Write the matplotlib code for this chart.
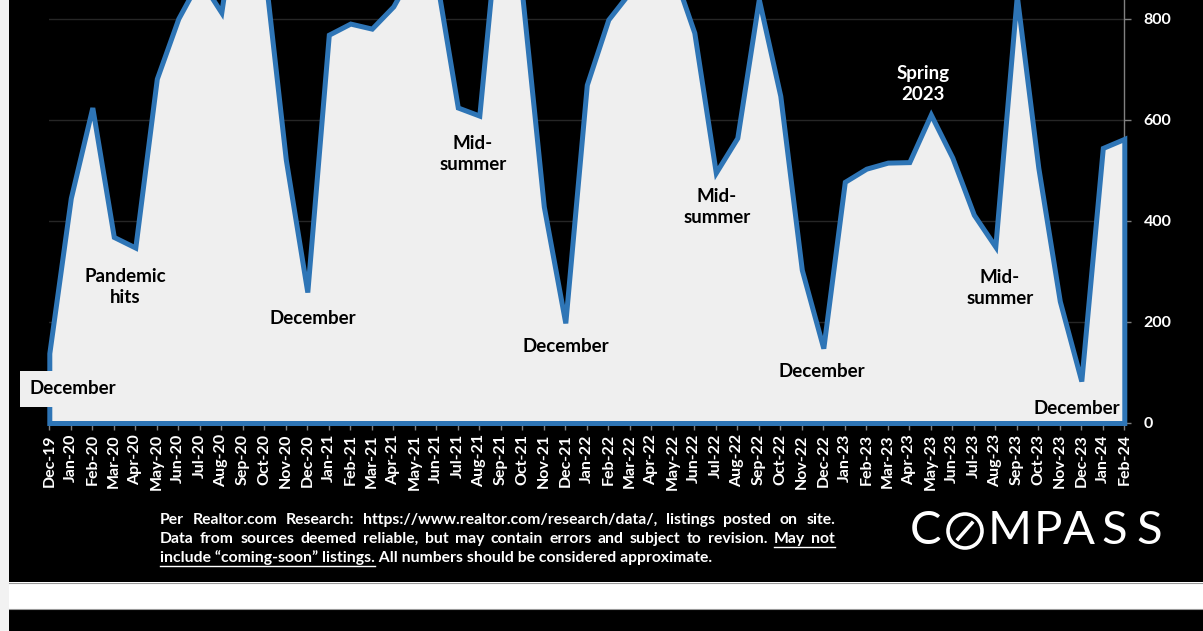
import matplotlib
matplotlib.use("Agg")
import matplotlib.pyplot as plt
import numpy as np
import pandas as pd
from matplotlib.patches import Rectangle, Circle
from matplotlib.lines import Line2D

# ---- data: active listings per month ----
months = pd.date_range("2019-12-01", periods=51, freq="MS").strftime("%b-%y").tolist()
listings = [138, 445, 624, 368, 347, 681, 800, 878, 812, 1100, 900, 521, 259,
            768, 790, 780, 824, 900, 880, 624, 608, 1050, 845, 428, 198,
            669, 798, 852, 900, 895, 772, 495, 564, 838, 647, 303, 148,
            477, 503, 515, 516, 610, 525, 412, 349, 845, 505, 241, 83,
            544, 562]
yticks = [0, 200, 400, 600, 800]

W, H = 1203, 631
DPI = 100
FONT = "Lato"
BLUE = "#2e75b6"
FILL = "#efefef"

fig = plt.figure(figsize=(W / DPI, H / DPI), dpi=DPI, facecolor="white")


def fx(px):
    return px / W


def fy(py):
    return 1 - py / H


# page background blocks
for rect in [((0, 0), fx(9), 1, "#f2f2f2"),
             ((fx(9), fy(582)), 1 - fx(9), 582 / H, "black"),
             ((fx(9), 0), 1 - fx(9), (631 - 610) / H, "black")]:
    fig.patches.append(Rectangle(rect[0], rect[1], rect[2], transform=fig.transFigure,
                                 facecolor=rect[3], edgecolor="none", zorder=-10))
for yy in (583, 609):
    fig.lines.append(Line2D([fx(9), 1], [fy(yy), fy(yy)], transform=fig.transFigure,
                            color="#9a9a9a", lw=0.8, zorder=-9))

# ---- main axes ----
x0, x1 = 49.3, 1124.3
ybot = 423
px_per_unit = 0.5056
ax = fig.add_axes([fx(x0), fy(ybot), fx(x1 - x0), ybot / H])
ax.set_facecolor("black")
x = np.arange(len(listings))
ax.set_xlim(0, len(listings) - 1)
ax.set_ylim(0, ybot / px_per_unit)

ax.fill_between(x, 0, listings, facecolor=FILL, edgecolor=BLUE, linewidth=3.6,
                joinstyle="miter", clip_on=False, zorder=3)

ax.set_yticks(yticks)
ax.yaxis.grid(True, color="#262626", lw=1.0)
ax.set_axisbelow(True)
ax.yaxis.tick_right()
ax.tick_params(axis="y", colors="#808080", length=5, width=1, pad=9,
               labelcolor="white", labelsize=11.5)
for lab in ax.get_yticklabels():
    lab.set_fontfamily(FONT)
    lab.set_fontweight("bold")

ax.set_xticks(x)
ax.set_xticklabels(months, rotation=90, fontfamily=FONT, fontweight="bold",
                   fontsize=11.5, color="white")
ax.tick_params(axis="x", colors="#808080", length=5, width=1, pad=3, labelcolor="white")

for s in ["left", "top"]:
    ax.spines[s].set_visible(False)
ax.spines["right"].set_color("#808080")
ax.spines["right"].set_linewidth(1)
ax.spines["bottom"].set_color("#808080")

# ---- annotations ----
ANN = dict(fontfamily=FONT, fontweight="bold", fontsize=13.5, ha="center",
           va="center", linespacing=1.32, transform=fig.transFigure, zorder=10)
fig.text(fx(73), fy(389), "December", color="black",
         bbox=dict(boxstyle="square,pad=0.5", facecolor=FILL, edgecolor="none"),
         **ANN)
fig.text(fx(125), fy(287), "Pandemic\nhits", color="black", **ANN)
fig.text(fx(313), fy(318), "December", color="black", **ANN)
fig.text(fx(473), fy(154), "Mid-\nsummer", color="black", **ANN)
fig.text(fx(566), fy(347), "December", color="black", **ANN)
fig.text(fx(717), fy(207), "Mid-\nsummer", color="black", **ANN)
fig.text(fx(822), fy(371), "December", color="black", **ANN)
fig.text(fx(923), fy(84), "Spring\n2023", color="white", **ANN)
fig.text(fx(1000), fy(288), "Mid-\nsummer", color="black", **ANN)
fig.text(fx(1077), fy(408), "December", color="black", **ANN)

# ---- source note (justified) ----
renderer = fig.canvas.get_renderer()
NOTE = dict(fontfamily=FONT, fontweight="bold", color="white", va="center",
            ha="left", transform=fig.transFigure)
note_size = 10.5
left_px, right_px = 160, 835


def text_width(s, size):
    t = fig.text(0, 0, s, fontsize=size, **NOTE)
    w = t.get_window_extent(renderer).width
    t.remove()
    return w


line3 = "include \u201ccoming-soon\u201d listings. All numbers should be considered approximate."
note_size = note_size * 553 / text_width(line3, note_size)


def justified(words, ypx, underline_from=None):
    widths = [text_width(w, note_size) for w in words]
    gap = (right_px - left_px - sum(widths)) / (len(words) - 1)
    pos = left_px
    starts = []
    for w, wd in zip(words, widths):
        fig.text(fx(pos), fy(ypx), w, fontsize=note_size, **NOTE)
        starts.append((pos, wd))
        pos += wd + gap
    if underline_from is not None:
        a = starts[underline_from][0]
        b = starts[-1][0] + starts[-1][1]
        fig.lines.append(Line2D([fx(a), fx(b)], [fy(ypx + 8), fy(ypx + 8)],
                                transform=fig.transFigure, color="white", lw=1))


justified("Per Realtor.com Research: https://www.realtor.com/research/data/, listings posted on site.".split(), 520)
justified("Data from sources deemed reliable, but may contain errors and subject to revision. May not".split(),
          539, underline_from=-2)
fig.text(fx(left_px), fy(558), line3, fontsize=note_size, **NOTE)
ul = text_width("include \u201ccoming-soon\u201d listings.", note_size)
fig.lines.append(Line2D([fx(left_px), fx(left_px + ul)], [fy(566), fy(566)],
                        transform=fig.transFigure, color="white", lw=1))

# ---- wordmark ----
LOGO = dict(fontfamily=FONT, fontweight="normal", color="white", fontsize=34,
            ha="center", va="center", transform=fig.transFigure)
logo_y = 531
for ch, cx in zip(["C", "M", "P", "A", "S", "S"], [925, 1010, 1048, 1079, 1114, 1149]):
    fig.text(fx(cx), fy(logo_y), ch, **LOGO)
ocx, r_px = 965, 17
fig.patches.append(Circle((ocx, H - logo_y), r_px, transform=None, facecolor="none",
                          edgecolor="white", lw=2.6))
fig.lines.append(Line2D([ocx - 7, ocx + 7], [H - logo_y - 8, H - logo_y + 8], transform=None,
                        color="white", lw=2.6))

fig.savefig("out.png", dpi=DPI, facecolor=fig.get_facecolor())
